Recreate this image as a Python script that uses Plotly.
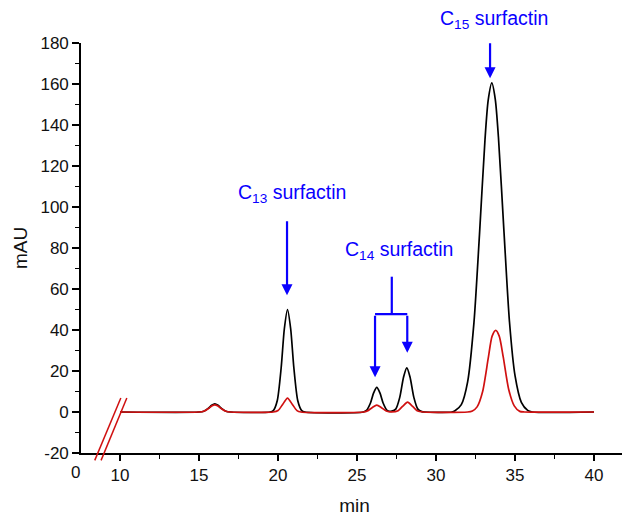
import plotly.graph_objects as go

# ---- data ----
black_x = [10, 15.0, 15.3, 15.6, 15.8, 16.0, 16.2, 16.4, 16.7, 17.0,
           19.5, 19.7, 19.95, 20.2, 20.4, 20.6, 20.8, 21.0, 21.25, 21.5, 21.7,
           25.4, 25.6, 25.85, 26.05, 26.25, 26.45, 26.65, 26.9, 27.05,
           27.2, 27.45, 27.7, 27.95, 28.15, 28.35, 28.6, 28.85, 29.1, 29.3,
           31.0, 31.2, 31.6, 32.0, 32.4, 32.75, 33.1, 33.3, 33.53, 33.75, 33.95,
           34.3, 34.65, 35.0, 35.4, 35.8, 36.1, 40]
black_y = [0, 0, 0.4, 1.9, 3.3, 4.0, 3.3, 1.9, 0.4, 0,
           0, 0.7, 5.5, 21.7, 40.6, 50.0, 40.6, 21.7, 5.5, 0.7, 0,
           0, 0.8, 4.4, 9.3, 12.0, 9.3, 4.4, 0.8, 0.3,
           0.4, 1.4, 7.0, 17.2, 21.5, 17.2, 7.0, 1.4, 0.2, 0,
           0, 0.6, 3.6, 14.7, 43.6, 86.5, 133, 152, 160.5, 152.5, 134,
           88, 43.9, 17.7, 4.7, 0.8, 0, 0]

red_x = [10, 15.0, 15.3, 15.6, 15.8, 16.0, 16.2, 16.4, 16.7, 17.0,
         19.7, 20.0, 20.3, 20.6, 20.9, 21.2, 21.45,
         25.4, 25.65, 25.95, 26.25, 26.55, 26.85, 27.2,
         27.6, 27.9, 28.2, 28.5, 28.8, 29.2,
         32.0, 32.3, 32.6, 32.95, 33.3, 33.55, 33.78, 34.0, 34.25, 34.6,
         34.95, 35.3, 35.6, 40]
red_y = [0, 0, 0.35, 1.7, 2.9, 3.5, 2.9, 1.7, 0.35, 0,
         0, 0.7, 3.8, 6.8, 3.8, 0.7, 0,
         0, 0.5, 2.1, 3.4, 2.1, 0.5, 0.05,
         0.65, 2.9, 4.8, 2.9, 0.65, 0,
         0, 0.5, 2.5, 10, 26, 37, 39.8, 37, 27, 11,
         3, 0.3, 0, 0]

x_range = [7.53, 42.15]
y_range = [-20, 180]
y_tick_vals = [-20, 0, 20, 40, 60, 80, 100, 120, 140, 160, 180]
y_tick_text = ["-20", "0", "20", "40", "60", "80", "100", "120", "140", "160", "180"]

peak_labels = ["C<sub>13</sub> surfactin", "C<sub>14</sub> surfactin", "C<sub>15</sub> surfactin"]

BLUE = "#0a00ff"
RED = "#d01010"
FONT = "Liberation Sans, Arial, sans-serif"
TXT = "#111"


def px(x):
    return (x - x_range[0]) / (x_range[1] - x_range[0])


def py(y):
    return (y - y_range[0]) / (y_range[1] - y_range[0])


fig = go.Figure()
fig.add_trace(go.Scatter(x=black_x, y=black_y, mode="lines",
                         line=dict(color="black", width=1.7, shape="spline", smoothing=0.7),
                         showlegend=False, hoverinfo="skip"))
fig.add_trace(go.Scatter(x=red_x, y=red_y, mode="lines",
                         line=dict(color=RED, width=1.7, shape="spline", smoothing=0.7),
                         showlegend=False, hoverinfo="skip"))

shapes = []
# axis break marks
for (xa, xb) in [(8.4, 10.05), (8.8, 10.43)]:
    shapes.append(dict(type="line", xref="paper", yref="paper",
                       x0=px(xa), y0=py(-23.6), x1=px(xb), y1=py(6.8),
                       line=dict(color=RED, width=1.5)))
# C14 bracket
shapes.append(dict(type="line", xref="x", yref="y", x0=27.2, y0=66.0, x1=27.2, y1=47.7,
                   line=dict(color=BLUE, width=2.2)))
shapes.append(dict(type="line", xref="x", yref="y", x0=26.14, y0=47.7, x1=28.18, y1=47.7,
                   line=dict(color=BLUE, width=2.2)))

annotations = []
arrow_style = dict(showarrow=True, arrowhead=2, arrowsize=1.0, arrowwidth=2.2,
                   arrowcolor=BLUE, axref="x", ayref="y", text="")
# C13 arrow
annotations.append(dict(x=20.57, y=57.0, ax=20.57, ay=93.8, xref="x", yref="y", **arrow_style))
# C14 arrows
annotations.append(dict(x=26.14, y=16.9, ax=26.14, ay=47.7, xref="x", yref="y", **arrow_style))
annotations.append(dict(x=28.18, y=28.9, ax=28.18, ay=47.7, xref="x", yref="y", **arrow_style))
# C15 arrow
annotations.append(dict(x=33.42, y=162.8, ax=33.42, ay=180.6, xref="x", yref="y", **arrow_style))

label_font = dict(family=FONT, size=19.5, color=BLUE)
for (lx, ly, txt) in [(20.86, 106.5, peak_labels[0]), (27.66, 78.6, peak_labels[1]),
                      (33.7, 191.3, peak_labels[2])]:
    annotations.append(dict(x=px(lx), y=py(ly), xref="paper", yref="paper", text=txt,
                            xanchor="center", yanchor="middle",
                            showarrow=False, font=label_font))
# "0" label at the broken axis start
annotations.append(dict(x=px(7.2), y=0, xref="paper", yref="paper",
                        xanchor="center", yanchor="top", yshift=-8,
                        text="0", showarrow=False, font=dict(family=FONT, size=17, color=TXT)))

# the page adds an 8px body margin, so the figure is drawn 8px smaller
fig.update_layout(
    width=622, height=510,
    margin=dict(l=73, r=2, t=35, b=65),
    paper_bgcolor="white", plot_bgcolor="white",
    font=dict(family=FONT, size=17, color=TXT),
    shapes=shapes, annotations=annotations,
    showlegend=False,
)
fig.update_xaxes(range=x_range, showgrid=False, zeroline=False,
                 showline=True, linecolor="black", linewidth=1.6,
                 ticks="outside", ticklen=6, tickwidth=1.6, tickcolor="black",
                 tick0=0, dtick=5,
                 minor=dict(ticks="outside", ticklen=4, tickwidth=1.4, tickcolor="black",
                            tick0=0, dtick=2.5),
                 title=dict(text="min", font=dict(size=19), standoff=14))
fig.update_yaxes(range=y_range, showgrid=False, zeroline=False,
                 showline=True, linecolor="black", linewidth=1.6,
                 ticks="outside", ticklen=7, tickwidth=1.6, tickcolor="black",
                 tickmode="array", tickvals=y_tick_vals, ticktext=y_tick_text,
                 minor=dict(ticks="outside", ticklen=4, tickwidth=1.4, tickcolor="black",
                            tickmode="linear", tick0=0, dtick=10),
                 title=dict(text="mAU", font=dict(size=19), standoff=8))

fig.write_html("out.html")
